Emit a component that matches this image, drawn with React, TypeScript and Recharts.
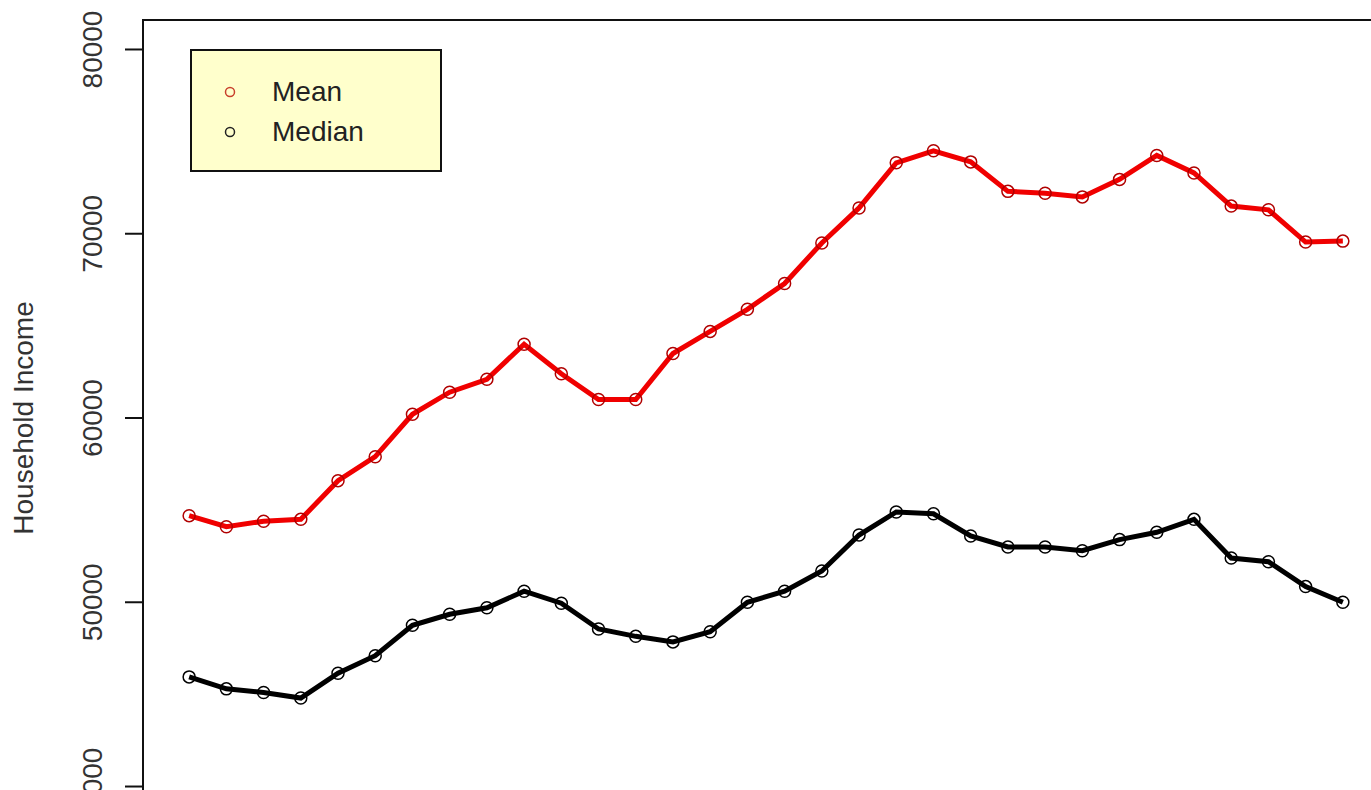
import React from 'react';
import { LineChart, Line, XAxis, YAxis, Legend, ReferenceArea } from 'recharts';

const years = [
  1984, 1985, 1986, 1987, 1988, 1989, 1990, 1991, 1992, 1993, 1994, 1995, 1996, 1997, 1998, 1999,
  2000, 2001, 2002, 2003, 2004, 2005, 2006, 2007, 2008, 2009, 2010, 2011, 2012, 2013, 2014, 2015,
];

const meanIncome = [
  54700, 54100, 54400, 54500, 56600, 57900, 60200, 61400, 62100, 64000, 62400, 61000, 61000, 63500, 64700, 65900,
  67300, 69500, 71400, 73850, 74500, 73900, 72300, 72200, 72000, 72950, 74250, 73300, 71500, 71300, 69550, 69600,
];

const medianIncome = [
  45950, 45300, 45100, 44800, 46150, 47100, 48750, 49350, 49700, 50600, 49950, 48550, 48150, 47850, 48400, 50000,
  50600, 51700, 53650, 54900, 54800, 53600, 53000, 53000, 52800, 53400, 53800, 54500, 52400, 52200, 50850, 50000,
];

const yTicks = [40000, 50000, 60000, 70000, 80000];

const data = years.map((year, i) => ({ year, mean: meanIncome[i], median: medianIncome[i] }));

// R-style 4% padding around the data ranges
const xPad = (years[years.length - 1] - years[0]) * 0.04;
const xDomain = [years[0] - xPad, years[years.length - 1] + xPad];
const yDomain = [38400, 81600];

const FONT = '"Liberation Sans", Arial, sans-serif';

const RotatedTick = (props: any) => {
  const { x, y, payload } = props;
  return (
    <text
      x={x}
      y={y}
      transform={`rotate(-90, ${x}, ${y})`}
      textAnchor="middle"
      fontSize={28}
      fontFamily={FONT}
      fill="#333"
    >
      {payload.value}
    </text>
  );
};

const YLabel = (props: any) => {
  const vb = props.viewBox || { x: 0, y: 20, height: 796 };
  const x = vb.x + 33;
  const y = vb.y + vb.height / 2;
  return (
    <text
      x={x}
      y={y}
      transform={`rotate(-90, ${x}, ${y})`}
      textAnchor="middle"
      fontSize={28}
      fontFamily={FONT}
      fill="#333"
    >
      Household Income
    </text>
  );
};

const markerColors: Record<string, string> = { mean: '#c8402c', median: '#222' };

const LegendBox = (props: any) => {
  const { payload = [] } = props;
  return (
    <div
      style={{
        width: 252,
        height: 123,
        border: '2px solid #111',
        background: '#ffffcc',
        paddingTop: 21,
        boxSizing: 'border-box',
        fontFamily: FONT,
        fontSize: 28,
        color: '#222',
      }}
    >
      {payload.map((entry: any) => (
        <div key={entry.value} style={{ display: 'flex', alignItems: 'center', height: 40 }}>
          <svg width={12} height={12} style={{ marginLeft: 32 }}>
            <circle cx={6} cy={6} r={4.5} fill="none" stroke={markerColors[entry.dataKey]} strokeWidth={1.5} />
          </svg>
          <span style={{ marginLeft: 36, lineHeight: '40px' }}>{entry.value}</span>
        </div>
      ))}
    </div>
  );
};

export default function App() {
  return (
    <div
      style={{
        position: 'fixed',
        top: 0,
        left: 0,
        width: 1371,
        height: 790,
        overflow: 'hidden',
        background: '#fff',
      }}
    >
      <LineChart width={1420} height={840} data={data} margin={{ top: 20, right: 31, bottom: 24, left: 0 }}>
        <XAxis dataKey="year" type="number" domain={xDomain} allowDataOverflow hide />
        <YAxis
          type="number"
          domain={yDomain}
          ticks={yTicks}
          allowDataOverflow
          width={143}
          tickSize={18}
          tickMargin={23}
          tick={<RotatedTick />}
          tickLine={{ stroke: '#111', strokeWidth: 2 }}
          axisLine={{ stroke: '#111', strokeWidth: 2 }}
          label={{ content: <YLabel /> }}
        />
        <ReferenceArea
          x1={xDomain[0]}
          x2={xDomain[1]}
          y1={yDomain[0]}
          y2={yDomain[1]}
          fill="none"
          stroke="#111"
          strokeWidth={2}
          ifOverflow="visible"
        />
        <Line
          dataKey="mean"
          name="Mean"
          stroke="#f00000"
          strokeWidth={5}
          dot={{ r: 6, fill: 'none', stroke: '#b00000', strokeWidth: 1.5 }}
          activeDot={false}
          isAnimationActive={false}
        />
        <Line
          dataKey="median"
          name="Median"
          stroke="#000"
          strokeWidth={5}
          dot={{ r: 6, fill: 'none', stroke: '#000', strokeWidth: 1.5 }}
          activeDot={false}
          isAnimationActive={false}
        />
        <Legend
          layout="horizontal"
          verticalAlign="middle"
          align="center"
          content={<LegendBox />}
          wrapperStyle={{ position: 'absolute', left: 190, top: 49, width: 'auto', height: 'auto' }}
        />
      </LineChart>
    </div>
  );
}
